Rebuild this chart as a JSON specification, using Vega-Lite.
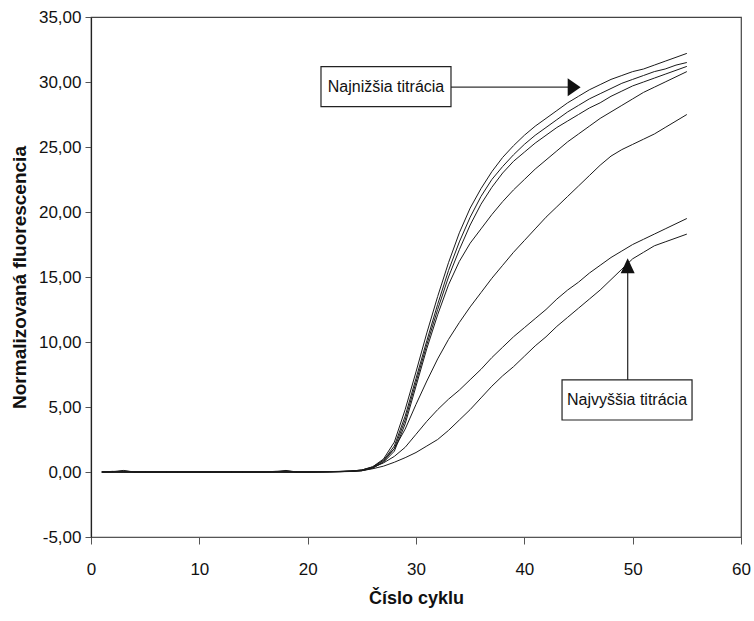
{
  "$schema": "https://vega.github.io/schema/vega-lite/v6.json",
  "width": 650,
  "height": 520,
  "autosize": "none",
  "padding": {"left": 91, "top": 17, "right": 13, "bottom": 84},
  "background": "white",
  "config": {
    "view": {"stroke": "#444", "strokeWidth": 1.2},
    "font": "Liberation Sans"
  },
  "datasets": {
    "curves": [
      {"c":1,"s1":0,"s2":0,"s3":0,"s4":0,"s5":0,"s6":0,"s7":0},
      {"c":2,"s1":0.03,"s2":0,"s3":0.05,"s4":0,"s5":0,"s6":0,"s7":0},
      {"c":3,"s1":0.12,"s2":0.08,"s3":0,"s4":0,"s5":0,"s6":0,"s7":0},
      {"c":4,"s1":0,"s2":0,"s3":0,"s4":0,"s5":0,"s6":0,"s7":0},
      {"c":5,"s1":0,"s2":0,"s3":0,"s4":0,"s5":0,"s6":0,"s7":0},
      {"c":6,"s1":0,"s2":0,"s3":0,"s4":0,"s5":0,"s6":0,"s7":0},
      {"c":7,"s1":0,"s2":0,"s3":0,"s4":0,"s5":0,"s6":0,"s7":0},
      {"c":8,"s1":0,"s2":0,"s3":0,"s4":0,"s5":0,"s6":0,"s7":0},
      {"c":9,"s1":0,"s2":0,"s3":0,"s4":0,"s5":0,"s6":0,"s7":0},
      {"c":10,"s1":0,"s2":0,"s3":0,"s4":0,"s5":0,"s6":0,"s7":0},
      {"c":11,"s1":0,"s2":0,"s3":0,"s4":0,"s5":0,"s6":0,"s7":0},
      {"c":12,"s1":0,"s2":0,"s3":0,"s4":0,"s5":0,"s6":0,"s7":0},
      {"c":13,"s1":0,"s2":0,"s3":0,"s4":0,"s5":0,"s6":0,"s7":0},
      {"c":14,"s1":0,"s2":0,"s3":0,"s4":0,"s5":0,"s6":0,"s7":0},
      {"c":15,"s1":0,"s2":0,"s3":0,"s4":0,"s5":0,"s6":0,"s7":0},
      {"c":16,"s1":0,"s2":0,"s3":0,"s4":0,"s5":0,"s6":0,"s7":0},
      {"c":17,"s1":0,"s2":0,"s3":0,"s4":0.04,"s5":0.05,"s6":0,"s7":0},
      {"c":18,"s1":0,"s2":0,"s3":0,"s4":0.12,"s5":0,"s6":0.08,"s7":0},
      {"c":19,"s1":0,"s2":0,"s3":0,"s4":0,"s5":0,"s6":0,"s7":0},
      {"c":20,"s1":0,"s2":0,"s3":0,"s4":0,"s5":0,"s6":0,"s7":0},
      {"c":21,"s1":0.01,"s2":0.01,"s3":0.01,"s4":0.01,"s5":0.01,"s6":0.01,"s7":0.01},
      {"c":22,"s1":0.02,"s2":0.02,"s3":0.02,"s4":0.02,"s5":0.03,"s6":0.02,"s7":0.01},
      {"c":23,"s1":0.04,"s2":0.03,"s3":0.03,"s4":0.03,"s5":0.05,"s6":0.04,"s7":0.02},
      {"c":24,"s1":0.07,"s2":0.06,"s3":0.05,"s4":0.05,"s5":0.08,"s6":0.07,"s7":0.04},
      {"c":25,"s1":0.15,"s2":0.12,"s3":0.1,"s4":0.1,"s5":0.15,"s6":0.15,"s7":0.1},
      {"c":26,"s1":0.4,"s2":0.35,"s3":0.3,"s4":0.3,"s5":0.4,"s6":0.35,"s7":0.25},
      {"c":27,"s1":1.0,"s2":0.9,"s3":0.8,"s4":0.75,"s5":0.9,"s6":0.7,"s7":0.45},
      {"c":28,"s1":2.3,"s2":2.0,"s3":1.8,"s4":1.6,"s5":1.8,"s6":1.2,"s7":0.75},
      {"c":29,"s1":4.8,"s2":4.3,"s3":4.0,"s4":3.7,"s5":3.3,"s6":1.9,"s7":1.1},
      {"c":30,"s1":7.7,"s2":7.2,"s3":6.9,"s4":6.6,"s5":5.2,"s6":2.9,"s7":1.5},
      {"c":31,"s1":10.7,"s2":10.1,"s3":9.8,"s4":9.5,"s5":7.0,"s6":3.9,"s7":2.0},
      {"c":32,"s1":13.5,"s2":12.9,"s3":12.5,"s4":12.1,"s5":8.7,"s6":4.8,"s7":2.5},
      {"c":33,"s1":16.1,"s2":15.5,"s3":15.0,"s4":14.4,"s5":10.2,"s6":5.6,"s7":3.2},
      {"c":34,"s1":18.4,"s2":17.7,"s3":17.1,"s4":16.2,"s5":11.5,"s6":6.3,"s7":4.0},
      {"c":35,"s1":20.3,"s2":19.6,"s3":19.0,"s4":17.6,"s5":12.7,"s6":7.1,"s7":4.8},
      {"c":36,"s1":21.8,"s2":21.2,"s3":20.6,"s4":18.7,"s5":13.8,"s6":7.9,"s7":5.7},
      {"c":37,"s1":23.1,"s2":22.5,"s3":21.9,"s4":19.8,"s5":14.9,"s6":8.8,"s7":6.6},
      {"c":38,"s1":24.2,"s2":23.5,"s3":23.0,"s4":20.8,"s5":15.9,"s6":9.6,"s7":7.4},
      {"c":39,"s1":25.1,"s2":24.4,"s3":23.9,"s4":21.7,"s5":16.9,"s6":10.4,"s7":8.1},
      {"c":40,"s1":25.9,"s2":25.2,"s3":24.6,"s4":22.5,"s5":17.8,"s6":11.1,"s7":8.9},
      {"c":41,"s1":26.6,"s2":25.9,"s3":25.3,"s4":23.3,"s5":18.7,"s6":11.8,"s7":9.7},
      {"c":42,"s1":27.2,"s2":26.5,"s3":25.9,"s4":24.0,"s5":19.6,"s6":12.5,"s7":10.4},
      {"c":43,"s1":27.8,"s2":27.1,"s3":26.5,"s4":24.7,"s5":20.4,"s6":13.3,"s7":11.2},
      {"c":44,"s1":28.4,"s2":27.7,"s3":27.0,"s4":25.4,"s5":21.2,"s6":14.0,"s7":11.9},
      {"c":45,"s1":28.9,"s2":28.2,"s3":27.5,"s4":26.0,"s5":22.0,"s6":14.6,"s7":12.6},
      {"c":46,"s1":29.4,"s2":28.7,"s3":28.0,"s4":26.6,"s5":22.8,"s6":15.3,"s7":13.3},
      {"c":47,"s1":29.8,"s2":29.1,"s3":28.4,"s4":27.2,"s5":23.6,"s6":15.9,"s7":14.0},
      {"c":48,"s1":30.2,"s2":29.5,"s3":28.9,"s4":27.7,"s5":24.3,"s6":16.5,"s7":14.8},
      {"c":49,"s1":30.5,"s2":29.9,"s3":29.3,"s4":28.2,"s5":24.8,"s6":17.0,"s7":15.6},
      {"c":50,"s1":30.8,"s2":30.2,"s3":29.7,"s4":28.7,"s5":25.2,"s6":17.5,"s7":16.4},
      {"c":51,"s1":31.0,"s2":30.5,"s3":30.0,"s4":29.2,"s5":25.6,"s6":17.9,"s7":16.9},
      {"c":52,"s1":31.3,"s2":30.8,"s3":30.3,"s4":29.6,"s5":26.0,"s6":18.3,"s7":17.4},
      {"c":53,"s1":31.6,"s2":31.0,"s3":30.6,"s4":30.0,"s5":26.5,"s6":18.7,"s7":17.7},
      {"c":54,"s1":31.9,"s2":31.3,"s3":30.9,"s4":30.4,"s5":27.0,"s6":19.1,"s7":18.0},
      {"c":55,"s1":32.2,"s2":31.5,"s3":31.2,"s4":30.8,"s5":27.5,"s6":19.5,"s7":18.3}
    ],
    "boxes": [
      {"label":"Najnižšia titrácia","c":21.23,"c2":33.23,"v":28.1,"v2":31.18,"tc":27.23,"tv":29.64},
      {"label":"Najvyššia titrácia","c":43.48,"c2":55.48,"v":4.0,"v2":7.08,"tc":49.48,"tv":5.54}
    ],
    "arrows": [
      {"c":33.23,"c2":44.3,"v":29.6,"v2":29.6},
      {"c":49.54,"c2":49.54,"v":7.08,"v2":15.4}
    ],
    "heads_right": [{"c":44.6,"v":29.6}],
    "heads_up": [{"c":49.54,"v":15.86}]
  },
  "encoding": {
    "x": {
      "field": "c", "type": "quantitative", "title": "Číslo cyklu",
      "scale": {"domain": [0, 60], "nice": false, "zero": false},
      "axis": {
        "values": [0,10,20,30,40,50,60],
        "grid": false,
        "domainColor": "#555", "domainWidth": 1.2,
        "tickColor": "#555", "tickSize": 7, "tickWidth": 1,
        "labelFont": "Liberation Sans", "labelFontSize": 17, "labelColor": "#111",
        "labelPadding": 17, "labelFlush": false,
        "titleFont": "Liberation Sans", "titleFontSize": 18, "titleFontWeight": "bold", "titleColor": "#111",
        "titlePadding": 12
      }
    },
    "y": {
      "field": "v", "type": "quantitative", "title": "Normalizovaná fluorescencia",
      "scale": {"domain": [-5, 35], "nice": false, "zero": false},
      "axis": {
        "values": [-5,0,5,10,15,20,25,30,35],
        "labelExpr": "(datum.value < 0 ? '-' : '') + replace(format(abs(datum.value), '.2f'), '.', ',')",
        "grid": false,
        "domainColor": "#222", "domainWidth": 1.2,
        "tickColor": "#555", "tickSize": 6, "tickWidth": 1,
        "labelFont": "Liberation Sans", "labelFontSize": 17, "labelColor": "#111",
        "labelPadding": 4, "labelFlush": false,
        "titleFont": "Liberation Sans", "titleFontSize": 19, "titleFontWeight": "bold", "titleColor": "#111",
        "titlePadding": 9
      }
    }
  },
  "layer": [
    {
      "data": {"name": "curves"},
      "transform": [{"fold": ["s1","s2","s3","s4","s5","s6","s7"], "as": ["series","v"]}],
      "mark": {"type": "line", "stroke": "#1a1a1a", "strokeWidth": 1, "interpolate": "linear"},
      "encoding": {
        "detail": {"field": "series"}
      }
    },
    {
      "data": {"name": "arrows"},
      "mark": {"type": "rule", "stroke": "#333", "strokeWidth": 1.3},
      "encoding": {
        "x2": {"field": "c2"},
        "y2": {"field": "v2"}
      }
    },
    {
      "data": {"name": "heads_right"},
      "mark": {"type": "point", "shape": "M-0.72,-1L-0.72,1L0.72,0Z", "size": 324, "filled": true, "fill": "#111", "stroke": null, "opacity": 1},
      "encoding": {}
    },
    {
      "data": {"name": "heads_up"},
      "mark": {"type": "point", "shape": "M0,-1L0.93,1L-0.93,1Z", "size": 225, "filled": true, "fill": "#111", "stroke": null, "opacity": 1},
      "encoding": {}
    },
    {
      "data": {"name": "boxes"},
      "mark": {"type": "rect", "fill": "white", "stroke": "#222", "strokeWidth": 1.2},
      "encoding": {
        "x2": {"field": "c2"},
        "y2": {"field": "v2"}
      }
    },
    {
      "data": {"name": "boxes"},
      "mark": {"type": "text", "font": "Liberation Sans", "fontSize": 16, "fill": "#111", "align": "center", "baseline": "middle"},
      "encoding": {
        "x": {"field": "tc", "type": "quantitative"},
        "y": {"field": "tv", "type": "quantitative"},
        "text": {"field": "label"}
      }
    }
  ]
}
